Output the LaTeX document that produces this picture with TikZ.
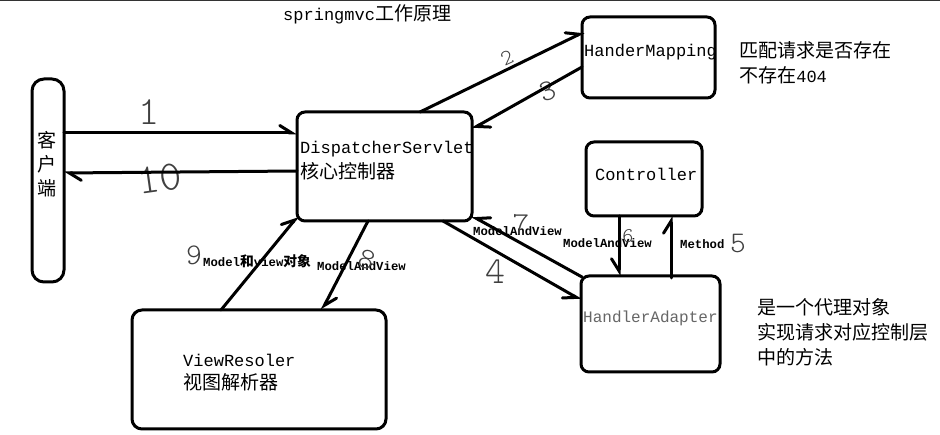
\documentclass[tikz,border=0pt]{standalone}
\usepackage{fontspec}
\setmainfont{Liberation Mono}
\newfontfamily\cjk{Noto Sans CJK SC}[Scale=1.12]
\newfontfamily\hand{Latin Modern Mono Light}
\usetikzlibrary{arrows.meta,calc}
\begin{document}
\begin{tikzpicture}[x=1pt,y=-1pt,
  box/.style={draw, line width=3pt, rounded corners=8pt, inner sep=0pt, outer sep=0pt},
  conn/.style={line width=3pt, line cap=round, -{Straight Barb[harpoon, length=12pt, width=15pt, line cap=round]}},
  connsw/.style={line width=3pt, line cap=round, -{Straight Barb[harpoon, swap, length=12pt, width=15pt, line cap=round]}},
  txt/.style={anchor=west, inner sep=0pt, align=left, font=\fontsize{17}{25}\selectfont},
  lbl/.style={anchor=west, inner sep=0pt, font=\fontsize{12.3}{14}\selectfont\bfseries},
  hw/.style={inner sep=0pt, text=black!75, font=\fontsize{#1}{#1}\selectfont\hand},
]
\useasboundingbox (0,0) rectangle (940,435);
\fill[white] (0,0) rectangle (940,435);
\draw[line width=1.5pt, black!80] (0,0.75) -- (940,0.75);

% boxes
\node[box, rounded corners=12pt, minimum width=32pt, minimum height=203pt] (client) at (48,180.5) {};
\node[box, minimum width=175pt, minimum height=109pt] (ds) at (384.5,166.5) {};
\node[box, minimum width=133pt, minimum height=81pt] (hm) at (648.5,57.5) {};
\node[box, minimum width=116pt, minimum height=74pt] (ctrl) at (644,179) {};
\node[box, minimum width=139pt, minimum height=96pt] (ha) at (650.5,324) {};
\node[box, rounded corners=10pt, minimum width=254pt, minimum height=119pt] (vr) at (259,369.5) {};

% texts
\node[txt] (title) at (283,14) {springmvc{\cjk 工作原理}};
\node[inner sep=0pt, align=center, font=\fontsize{17}{24}\selectfont\cjk] (cltxt) at (47,164) {客\\户\\端};
\node[txt] (dstxt) at (300,160.5) {DispatcherServlet\\{\cjk 核心控制器}};
\node[txt] (hmtxt) at (584,52) {HanderMapping};
\node[txt] (hmnote) at (739,62.5) {{\cjk 匹配请求是否存在}\\{\cjk 不存在}404};
\node[txt] (cttxt) at (595,174) {Controller};
\node[txt, font=\fontsize{16}{20}\selectfont, text=black!60] (hatxt) at (583,318) {HandlerAdapter};
\node[txt, font=\fontsize{17}{25}\selectfont] (hanote) at (757,332) {{\cjk 是一个代理对象}\\{\cjk 实现请求对应控制层}\\{\cjk 中的方法}};
\node[txt, font=\fontsize{17}{23.5}\selectfont] (vrtxt) at (183,372.5) {ViewResoler\\{\cjk 视图解析器}};

% connector labels
\node[lbl] (l9) at (203,261) {Model{\cjk 和}view{\cjk 对象}};
\node[lbl] (l8) at (317,266) {ModelAndView};
\node[lbl] (l7) at (473,231) {ModelAndView};
\node[lbl] (l6) at (563,243) {ModelAndView};
\node[lbl] (l5) at (680,244) {Method};

% handwritten step numbers
\node[hw=40] (n1) at (149,112) {1};
\node[hw=42, rotate=8] (n10) at (160,179) {10};
\node[hw=22, rotate=25] (n2) at (507,58) {2};
\node[hw=30, rotate=20] (n3) at (548,91) {3};
\node[hw=32] (n7) at (521,225) {7};
\node[hw=38] (n4) at (495,272) {4};
\node[hw=21] (n6) at (628,236) {6};
\node[hw=30] (n5) at (738,244) {5};
\node[hw=30] (n9) at (194,255) {9};
\node[hw=30, rotate=-20] (n8) at (367,260) {8};

% connectors
\draw[conn] ($(client.north east)+(0,54)$) -- ($(ds.north west)+(0,21)$);
\draw[conn] ($(ds.north west)+(0,59)$) -- ($(client.north east)+(0,94)$);
\draw[conn] ($(ds.north west)+(123,0)$) -- ($(hm.north west)+(2,15)$);
\draw[conn] ($(hm.north west)+(0,50)$) -- ($(ds.north east)+(0,17)$);
\draw[connsw] ($(ds.south west)+(146,0)$) -- ($(ha.north west)+(0,24)$);
\draw[connsw] ($(ha.north west)+(1,1)$) -- ($(ds.south east)+(0,-5)$);
\draw[connsw] ($(ctrl.south west)+(33,0)$) -- ($(ha.north west)+(38,0)$);
\draw[conn] ($(ha.north west)+(90,2)$) -- ($(ctrl.south west)+(85,0)$);
\draw[conn] ($(vr.north west)+(89,0)$) -- ($(ds.south west)+(1,-5)$);
\draw[conn] ($(ds.south west)+(71,0)$) -- ($(vr.north west)+(190,0)$);
\end{tikzpicture}
\end{document}
